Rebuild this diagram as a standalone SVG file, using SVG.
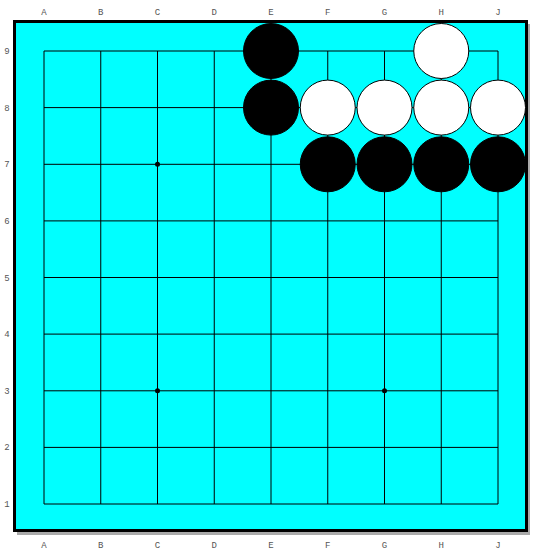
<svg xmlns="http://www.w3.org/2000/svg" width="540" height="552" viewBox="0 0 540 552">
<style>
.lbl{font-family:"Liberation Mono",monospace;font-size:9px;fill:#555;text-anchor:middle}
.grid line{stroke:#000;stroke-width:1}
.b{fill:#000;stroke:#000;stroke-width:1}
.w{fill:#fff;stroke:#000;stroke-width:1}
.star{fill:#000}
</style>
<rect width="540" height="552" fill="#fff"/>
<g id="board">
<rect x="17" y="24" width="513" height="511" fill="#aaa"/>
<rect x="14.5" y="21.5" width="512" height="509" fill="#00ffff" stroke="#000" stroke-width="3"/>
</g>
<g id="grid" class="grid">
<line x1="44" y1="51" x2="498" y2="51"/>
<line x1="44" y1="107.6" x2="498" y2="107.6"/>
<line x1="44" y1="164.3" x2="498" y2="164.3"/>
<line x1="44" y1="220.9" x2="498" y2="220.9"/>
<line x1="44" y1="277.5" x2="498" y2="277.5"/>
<line x1="44" y1="334.1" x2="498" y2="334.1"/>
<line x1="44" y1="390.8" x2="498" y2="390.8"/>
<line x1="44" y1="447.4" x2="498" y2="447.4"/>
<line x1="44" y1="504" x2="498" y2="504"/>
<line x1="44" y1="51" x2="44" y2="504"/>
<line x1="100.75" y1="51" x2="100.75" y2="504"/>
<line x1="157.5" y1="51" x2="157.5" y2="504"/>
<line x1="214.25" y1="51" x2="214.25" y2="504"/>
<line x1="271" y1="51" x2="271" y2="504"/>
<line x1="327.75" y1="51" x2="327.75" y2="504"/>
<line x1="384.5" y1="51" x2="384.5" y2="504"/>
<line x1="441.25" y1="51" x2="441.25" y2="504"/>
<line x1="498" y1="51" x2="498" y2="504"/>
</g>
<g id="stars">
<circle class="star" cx="157.5" cy="164.3" r="2.5"/>
<circle class="star" cx="157.5" cy="390.8" r="2.5"/>
<circle class="star" cx="384.5" cy="390.8" r="2.5"/>
<circle class="star" cx="384.5" cy="164.3" r="2.5"/>
</g>
<g id="stones">
<circle id="E9" class="b" cx="271" cy="51" r="27.5"/>
<circle id="E8" class="b" cx="271" cy="107.6" r="27.5"/>
<circle id="H9" class="w" cx="441.25" cy="51" r="27.5"/>
<circle id="F8" class="w" cx="327.75" cy="107.6" r="27.5"/>
<circle id="G8" class="w" cx="384.5" cy="107.6" r="27.5"/>
<circle id="H8" class="w" cx="441.25" cy="107.6" r="27.5"/>
<circle id="J8" class="w" cx="498" cy="107.6" r="27.5"/>
<circle id="F7" class="b" cx="327.75" cy="164.3" r="27.5"/>
<circle id="G7" class="b" cx="384.5" cy="164.3" r="27.5"/>
<circle id="H7" class="b" cx="441.25" cy="164.3" r="27.5"/>
<circle id="J7" class="b" cx="498" cy="164.3" r="27.5"/>
</g>
<g id="labels">
<text class="lbl" x="44" y="15">A</text><text class="lbl" x="100.75" y="15">B</text><text class="lbl" x="157.5" y="15">C</text><text class="lbl" x="214.25" y="15">D</text><text class="lbl" x="271" y="15">E</text><text class="lbl" x="327.75" y="15">F</text><text class="lbl" x="384.5" y="15">G</text><text class="lbl" x="441.25" y="15">H</text><text class="lbl" x="498" y="15">J</text>
<text class="lbl" x="44" y="548">A</text><text class="lbl" x="100.75" y="548">B</text><text class="lbl" x="157.5" y="548">C</text><text class="lbl" x="214.25" y="548">D</text><text class="lbl" x="271" y="548">E</text><text class="lbl" x="327.75" y="548">F</text><text class="lbl" x="384.5" y="548">G</text><text class="lbl" x="441.25" y="548">H</text><text class="lbl" x="498" y="548">J</text>
<text class="lbl" x="7" y="54">9</text><text class="lbl" x="7" y="110.6">8</text><text class="lbl" x="7" y="167.3">7</text><text class="lbl" x="7" y="223.9">6</text><text class="lbl" x="7" y="280.5">5</text><text class="lbl" x="7" y="337.1">4</text><text class="lbl" x="7" y="393.8">3</text><text class="lbl" x="7" y="450.4">2</text><text class="lbl" x="7" y="507">1</text>
</g>
</svg>
